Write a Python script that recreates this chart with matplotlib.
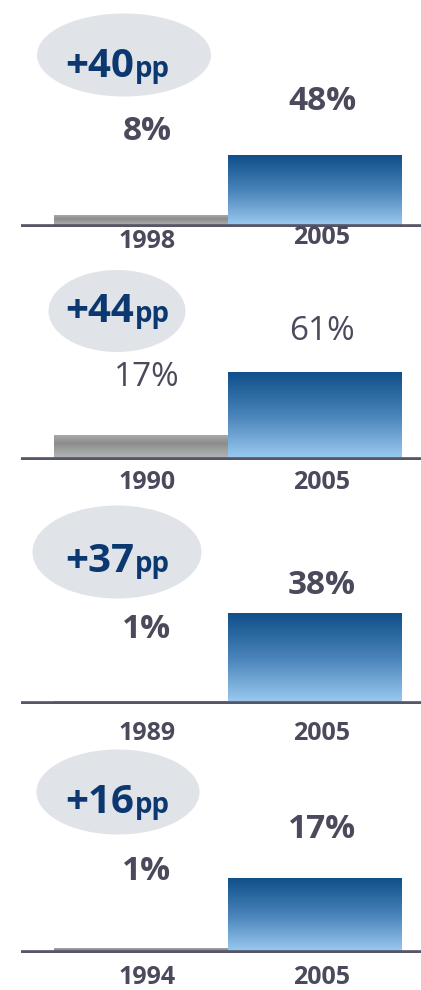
import numpy as np
import matplotlib
matplotlib.use("Agg")
import matplotlib.pyplot as plt
from matplotlib.colors import LinearSegmentedColormap
from matplotlib.patches import Ellipse

# data: one panel per indicator, earlier year vs 2005
start_years = ["1998", "1990", "1989", "1994"]
end_years = ["2005", "2005", "2005", "2005"]
start_vals = [8, 17, 1, 1]
end_vals = [48, 61, 38, 17]
changes = ["+40", "+44", "+37", "+16"]
bold_labels = [True, False, True, True]

# layout (pixels from top-left of a 421x990 canvas)
W, H = 421, 990
base_y = [227, 460, 704, 953]
px_per_unit = [1.5, 1.43, 2.37, 4.41]
lab_y_start = [132, 377, 630, 872]
lab_y_end = [102, 332, 585, 830]
year_y = [241, 483, 734, 978]
ell = [(124, 55, 174, 83), (117, 311, 137, 82), (117, 552, 169, 93), (118, 792, 163, 85)]
chg_base = [77, 322, 572, 813]

TXT = "#4a4a5c"
NAVY = "#0b3870"
blue_cm = LinearSegmentedColormap.from_list("b", ["#0f4f8a", "#4a84ba", "#9ecdf2"])
gray_cm = LinearSegmentedColormap.from_list("g", ["#a9a9a9", "#8c8c8c", "#a3a6a6", "#b6b9b9"])

plt.rcParams['font.family'] = ['Open Sans', 'DejaVu Sans']

fig = plt.figure(figsize=(W / 100, H / 100), dpi=100)

def fx(x):
    return x / W

def fy(y):
    return 1 - y / H

ax_h = 200
for i in range(4):
    ax = fig.add_axes([fx(21), fy(base_y[i]), fx(400), ax_h / H])
    ax.set_xlim(-0.69, 1.61)
    ax.set_ylim(0, ax_h / px_per_unit[i])
    ax.axis("off")
    bars = ax.bar([0, 1], [start_vals[i], end_vals[i]], width=1.0, color="none")
    grad = np.linspace(0, 1, 256).reshape(-1, 1)
    for b, cm in zip(bars, [gray_cm, blue_cm]):
        x0, y0 = b.get_x(), b.get_y()
        ax.imshow(grad, cmap=cm, aspect="auto", origin="upper",
                  extent=[x0, x0 + b.get_width(), y0, y0 + b.get_height()], zorder=1)
    ax.set_xlim(-0.69, 1.61)
    ax.set_ylim(0, ax_h / px_per_unit[i])
    ax.axhline(0, color="#565668", lw=4.8, zorder=3)

    wt = "bold" if bold_labels[i] else "normal"
    fig.text(fx(147), fy(lab_y_start[i]), f"{start_vals[i]}%", ha="center", va="center",
             fontsize=24, fontweight=wt, color=TXT)
    fig.text(fx(322), fy(lab_y_end[i]), f"{end_vals[i]}%", ha="center", va="center",
             fontsize=24, fontweight=wt, color=TXT)
    fig.text(fx(147), fy(year_y[i]), start_years[i], ha="center", va="center",
             fontsize=18, fontweight="bold", color=TXT)
    fig.text(fx(322), fy(year_y[i] - 3 if i == 0 else year_y[i]), end_years[i], ha="center",
             va="center", fontsize=18, fontweight="bold", color=TXT)

    cx, cy, ew, eh = ell[i]
    fig.patches.append(Ellipse((fx(cx), fy(cy)), ew / W, eh / H, transform=fig.transFigure,
                               facecolor="#e0e3e7", edgecolor="none", zorder=0))
    fig.text(fx(134), fy(chg_base[i]), changes[i], ha="right", va="baseline",
             fontsize=29, fontweight="bold", color=NAVY)
    fig.text(fx(135), fy(chg_base[i]), "pp", ha="left", va="baseline",
             fontsize=20, fontweight="bold", color=NAVY)

fig.savefig("out.png", dpi=100)
